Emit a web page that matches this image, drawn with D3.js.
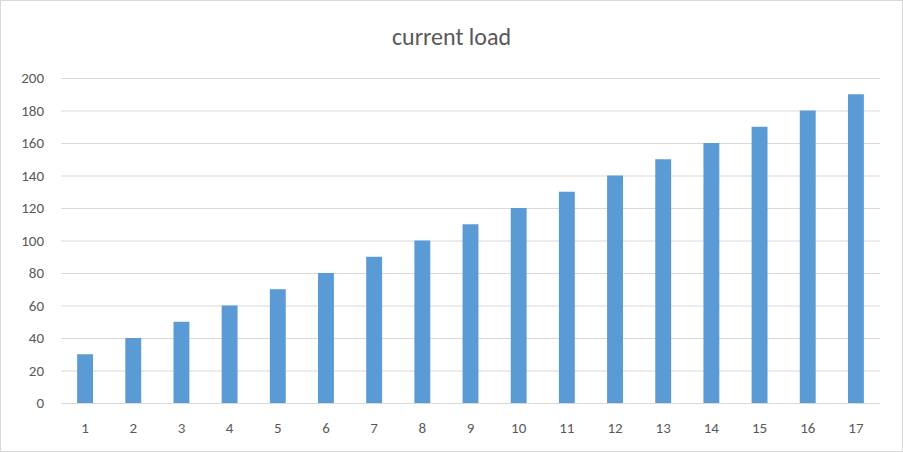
<!DOCTYPE html>
<html><head><meta charset="utf-8">
<script src="https://cdn.jsdelivr.net/npm/d3@7"></script>
<style>body{margin:0;background:#fff}</style>
</head><body><div id="app"></div>
<script>
const categories = ['1','2','3','4','5','6','7','8','9','10','11','12','13','14','15','16','17'];
const values = [30,40,50,60,70,80,90,100,110,120,130,140,150,160,170,180,190];
const yTicks = [0,20,40,60,80,100,120,140,160,180,200];

const W = 903, H = 452;
const margin = {top: 78, right: 23, bottom: 49, left: 61};
const width = W - margin.left - margin.right,
  height = H - margin.top - margin.bottom;

const svg = d3.select('#app').append('svg')
  .attr('width', W).attr('height', H)
  .style('font-family', 'Calibri, Carlito, "Liberation Sans", sans-serif');

svg.append('rect')
  .attr('x', 0.5).attr('y', 0.5).attr('width', W - 1).attr('height', H - 1)
  .attr('fill', '#fff').attr('stroke', '#d9d9d9');

svg.append('text')
  .attr('x', W / 2).attr('y', 45)
  .attr('text-anchor', 'middle')
  .style('font-size', '24px').attr('fill', '#595959')
  .text('current load');

const g = svg.append('g').attr('transform', `translate(${margin.left},${margin.top})`);

const x = d3.scaleBand().domain(categories).range([0, width]).paddingInner(0.67).paddingOuter(0.335);
const y = d3.scaleLinear().domain([0, 200]).range([height, 0]);

// gridlines
g.selectAll('.grid').data(yTicks).enter().append('line')
  .attr('x1', 0).attr('x2', width)
  .attr('y1', d => y(d) + 0.5).attr('y2', d => y(d) + 0.5)
  .attr('stroke', '#d9d9d9');

g.selectAll('.ylab').data(yTicks).enter().append('text')
  .attr('x', -17).attr('y', d => y(d) + 5)
  .attr('text-anchor', 'end')
  .style('font-size', '15px').attr('fill', '#595959')
  .text(d => d);

g.selectAll('.bar').data(values).enter().append('rect')
  .attr('x', (d, i) => x(categories[i]))
  .attr('y', d => y(d))
  .attr('width', x.bandwidth())
  .attr('height', d => height - y(d))
  .attr('fill', '#5b9bd5');

g.selectAll('.xlab').data(categories).enter().append('text')
  .attr('x', d => x(d) + x.bandwidth() / 2).attr('y', height + 30)
  .attr('text-anchor', 'middle')
  .style('font-size', '15px').attr('fill', '#595959')
  .text(d => d);
</script></body></html>
